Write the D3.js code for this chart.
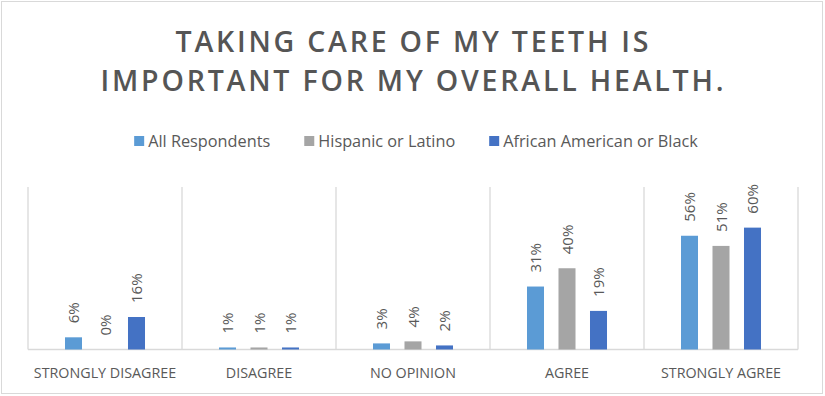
<!DOCTYPE html>
<html>
<head>
<meta charset="utf-8">
<script src="https://cdn.jsdelivr.net/npm/d3@7"></script>
<style>
  html, body { margin: 0; padding: 0; background: #fff; }
  svg { display: block; font-family: "Open Sans", sans-serif; }
</style>
</head>
<body>
<div id="chart"></div>
<script>
// data
const categories = ["STRONGLY DISAGREE", "DISAGREE", "NO OPINION", "AGREE", "STRONGLY AGREE"];
const seriesNames = ["All Respondents", "Hispanic or Latino", "African American or Black"];
const allRespondents = [0.06, 0.01, 0.03, 0.31, 0.56];
const hispanicLatino = [0.00, 0.01, 0.04, 0.40, 0.51];
const africanAmerican = [0.16, 0.01, 0.02, 0.19, 0.60];
const seriesColors = ["#5B9BD5", "#A5A5A5", "#4472C4"];
const titleLines = ["TAKING CARE OF MY TEETH IS", "IMPORTANT FOR MY OVERALL HEALTH."];

const seriesValues = [allRespondents, hispanicLatino, africanAmerican];
const rows = [];
categories.forEach((c, i) => {
    seriesNames.forEach((s, j) => {
        rows.push({ cat: c, series: s, value: seriesValues[j][i], color: seriesColors[j] });
    });
});

const width = 825, height = 396;
const textColor = "#595959";
const lineColor = "#d9d9d9";

const svg = d3.select("#chart").append("svg")
    .attr("width", width)
    .attr("height", height);

// chart border
svg.append("rect")
    .attr("x", 1.5).attr("y", 1.5)
    .attr("width", 821).attr("height", 392)
    .attr("fill", "#fff")
    .attr("stroke", lineColor)
    .attr("stroke-width", 1);

// title, two lines, spaced out
const titleWidths = [473, 623];
const titleBase = [52, 91];
titleLines.forEach((t, i) => {
    svg.append("text")
        .attr("x", 412 - titleWidths[i] / 2)
        .attr("y", titleBase[i])
        .attr("textLength", titleWidths[i])
        .attr("lengthAdjust", "spacing")
        .attr("fill", "#555")
        .style("font-size", "28.5px")
        .style("font-weight", 600)
        .text(t);
});

// legend
const legend = svg.append("g");
let lx = 0;
seriesNames.forEach((s, j) => {
    const g = legend.append("g").attr("transform", `translate(${lx},0)`);
    g.append("rect")
        .attr("x", 0).attr("y", -11)
        .attr("width", 10).attr("height", 10)
        .attr("fill", seriesColors[j]);
    const t = g.append("text")
        .attr("x", 14).attr("y", 0)
        .attr("fill", textColor)
        .style("font-size", "16.3px")
        .text(s);
    lx += 14 + t.node().getComputedTextLength() + 34;
});
const legendW = lx - 34;
legend.attr("transform", `translate(${416 - legendW / 2},147)`);

// scales
const plot = { left: 28, right: 798, top: 187, bottom: 349.5 };
const x0 = d3.scaleBand()
    .domain(categories)
    .range([plot.left, plot.right]);
const x1 = d3.scaleBand()
    .domain(seriesNames)
    .range([-47.25, 47.25])
    .paddingInner(0.46)
    .paddingOuter(0.23);
const y = d3.scaleLinear()
    .domain([0, 0.8])
    .range([plot.bottom, plot.top]);

// category separators
const seps = categories.map(c => x0(c)).concat([plot.right]);
svg.append("g").selectAll("line")
    .data(seps)
    .join("line")
    .attr("x1", d => d).attr("x2", d => d)
    .attr("y1", plot.top).attr("y2", plot.bottom)
    .attr("stroke", lineColor)
    .attr("stroke-width", 1.3);

// baseline
svg.append("line")
    .attr("x1", plot.left).attr("x2", plot.right)
    .attr("y1", plot.bottom).attr("y2", plot.bottom)
    .attr("stroke", lineColor)
    .attr("stroke-width", 1.3);

// bars
const cx = d => x0(d.cat) + x0.bandwidth() / 2 + x1(d.series);
svg.append("g").selectAll("rect")
    .data(rows)
    .join("rect")
    .attr("x", d => cx(d))
    .attr("y", d => y(d.value))
    .attr("width", x1.bandwidth())
    .attr("height", d => plot.bottom - y(d.value))
    .attr("fill", d => d.color);

// value labels, rotated
svg.append("g").selectAll("text")
    .data(rows)
    .join("text")
    .attr("transform", d => `translate(${cx(d) + x1.bandwidth() / 2 + 5.5},${y(d.value) - 14}) rotate(-90)`)
    .attr("fill", textColor)
    .style("font-size", "15px")
    .text(d => Math.round(d.value * 100) + "%");

// category labels
svg.append("g").selectAll("text")
    .data(categories)
    .join("text")
    .attr("x", d => x0(d) + x0.bandwidth() / 2)
    .attr("y", 378)
    .attr("text-anchor", "middle")
    .attr("fill", textColor)
    .style("font-size", "14.3px")
    .text(d => d);
</script>
</body>
</html>
